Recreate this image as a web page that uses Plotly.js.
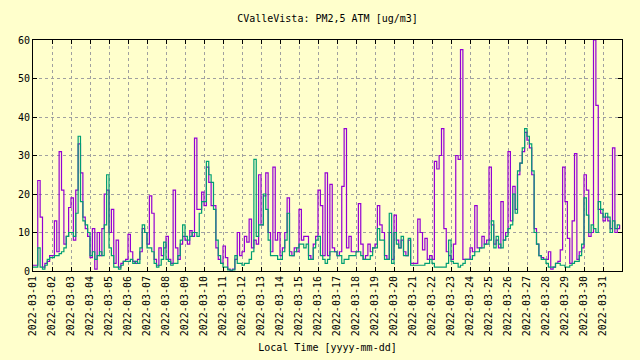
<!DOCTYPE html>
<html>
<head>
<meta charset="utf-8">
<script src="https://cdn.plot.ly/plotly-3.0.1.min.js"></script>
<style>html,body{margin:0;padding:0;background:#ffffcc;}#chart{width:640px;height:360px;}</style>
</head>
<body>
<div id="chart"></div>
<script>
// 3-hour readings, 8 per day, 2022-03-01 .. 2022-03-31
const startDate = "2022-03-01T00:00:00";
const stepHours = 3;
const dayLabels = ["2022-03-01","2022-03-02","2022-03-03","2022-03-04","2022-03-05","2022-03-06","2022-03-07","2022-03-08","2022-03-09","2022-03-10","2022-03-11","2022-03-12","2022-03-13","2022-03-14","2022-03-15","2022-03-16","2022-03-17","2022-03-18","2022-03-19","2022-03-20","2022-03-21","2022-03-22","2022-03-23","2022-03-24","2022-03-25","2022-03-26","2022-03-27","2022-03-28","2022-03-29","2022-03-30","2022-03-31"];

// channel A (purple)
const pmA = [
  1.5,1.5,23.5,14,1,2,2.5,4,
  4,13,5,31,21,7,9,16.5,
  19,8,21,33,25.5,14,11,9,
  3.5,11,0.5,10,4,11,20,21,
  10,16,2,8,1,2,2.5,3,
  9.5,5,2.5,2,3,5,11,10,
  7,19.5,15,3,1.5,6,4,6,
  9,3,2,21,6,3,7,9,
  8,7,10.5,9,34.5,16,16,20.5,
  17,27,23,17,17,6,3,2,
  6.5,3.5,0.5,0.2,0.5,3,10,4,
  5,9,7.5,13.5,6,8,7,25,
  12,19.5,25.5,10,5,27,8,10,
  4,6,10,19,5,4,6,5,
  16,8,9,9,4,3,7,9,
  21,17,4,25.5,4,22.5,6,5,
  4,5,22,37,6,9,5,5,
  5,17.5,7,3,4,7,5,6,
  7,17,12,10,4,3,10,3,
  14.5,8,6,8,5,4,8,2,
  2,2,13.5,10,5.5,8.5,3,4,
  3,28.5,26.5,30,37,11,5,4,
  3,7,30,29,57.5,3,3,3,
  6,5,17,6,6,9,7,8,
  27,12,7,8,6,18,8,10,
  31,13,22,16,25,28,31,36,
  34,32,25,11,7,4,3.5,3,
  3,5,0.5,1,2,2.5,5.5,27,
  18,8.5,2,13,30.5,3,5,6,
  25,21,9,10,60,43,16,15,
  13,14,13,11,32,10,11,12
];

// channel B (teal)
const pmB = [
  1,1,6,1,0.5,1.5,3,3.5,
  3.5,4,4,4.5,5,6,9,10,
  10,9,15,35,18,13,12,10,
  4,5,3,4,5,4,12,25,
  6,4,1,1,0.5,1.5,2.5,2.5,
  2.5,3,2,2.5,2,6,12,10,
  6,6,5,2,1,1.5,3,7.5,
  3,2.5,1.5,2,2,4,8,12,
  9,8,9,10,10,9,15,18,
  18,28.5,25,23,16,8,4,2,
  1,1,0.3,0.2,0.3,4,2,2,
  1.5,2,2,3,5,29,9,12,
  12,20,16,8,4,4,4,3,
  3,5,8,15,4,4,5,6,
  7,7,6,7,3,3,6,8,
  9,4,3,2,3,5,5,5,
  4,4,2,3,3,4,4,4,
  5,5,4,3,3,3,4,6,
  6,11,8,8,3,3,15,2,
  10,7,6,9,4,4,8.5,1.5,
  1.5,1.5,1.5,1.5,1.5,2,2,3,
  2,1,1,1,1,1,2,8,
  2.5,2,2,1,1.5,2,3,3,
  3,4,5,5,6,6,7,7,
  8,13,6,9,7,6,8,9,
  11,12,20,15,26,28,32,37,
  35,33,26,10,7,4,3,3,
  2,1,1,1,2,2,1.5,1.5,
  1,1,1.5,2,2.5,2.5,4,7,
  19,14.5,10,12,11,10,18,16,
  14,15,14,10,13,11,12,12
];

function pad(n){return (n<10?"0":"")+n;}
function timeAxis(n){
  const t0 = Date.UTC(2022,2,1,0,0,0);
  const out = [];
  for(let i=0;i<n;i++){
    const d = new Date(t0 + i*stepHours*3600*1000);
    out.push(d.getUTCFullYear()+"-"+pad(d.getUTCMonth()+1)+"-"+pad(d.getUTCDate())+" "+pad(d.getUTCHours())+":00");
  }
  return out;
}
const times = timeAxis(pmA.length);

const mono = "DejaVu Sans Mono, monospace";
const traces = [
  {x: times, y: pmA, type: "scatter", mode: "lines", line: {color: "#9400d3", width: 1.2, shape: "hv"}, name: "A", hoverinfo: "skip"},
  {x: times, y: pmB, type: "scatter", mode: "lines", line: {color: "#009e73", width: 1.2, shape: "hv"}, name: "B", hoverinfo: "skip"}
];

const layout = {
  width: 640, height: 360,
  paper_bgcolor: "#ffffcc", plot_bgcolor: "#ffffcc",
  margin: {l: 33, r: 18, t: 40, b: 89},
  showlegend: false,
  font: {family: mono, size: 10, color: "#000"},
  title: {text: "CValleVista: PM2,5 ATM [ug/m3]", x: 0.5, xref: "paper", y: 1 - 18/360, yref: "container", yanchor: "middle", font: {family: mono, size: 10, color: "#000"}},
  xaxis: {
    type: "date",
    range: ["2022-03-01 00:00", "2022-04-01 00:00"],
    tickvals: dayLabels, ticktext: dayLabels,
    tickangle: -90,
    ticks: "inside", ticklen: 4, tickcolor: "#000",
    showline: true, linecolor: "#000", linewidth: 1, mirror: "ticks",
    showgrid: true, gridcolor: "#a0a0a0", griddash: "3px,3px", gridwidth: 1,
    zeroline: false,
    tickfont: {family: mono, size: 10, color: "#000"},
    title: {text: "Local Time [yyyy-mm-dd]", standoff: 8, font: {family: mono, size: 10, color: "#000"}}
  },
  yaxis: {
    range: [0, 60], dtick: 10, tick0: 0,
    ticks: "inside", ticklen: 4, tickcolor: "#000",
    showline: true, linecolor: "#000", linewidth: 1, mirror: "ticks",
    showgrid: true, gridcolor: "#a0a0a0", griddash: "3px,3px", gridwidth: 1,
    zeroline: false,
    tickfont: {family: mono, size: 10, color: "#000"}
  }
};

Plotly.newPlot("chart", traces, layout, {displayModeBar: false, staticPlot: true});
</script>
</body>
</html>
